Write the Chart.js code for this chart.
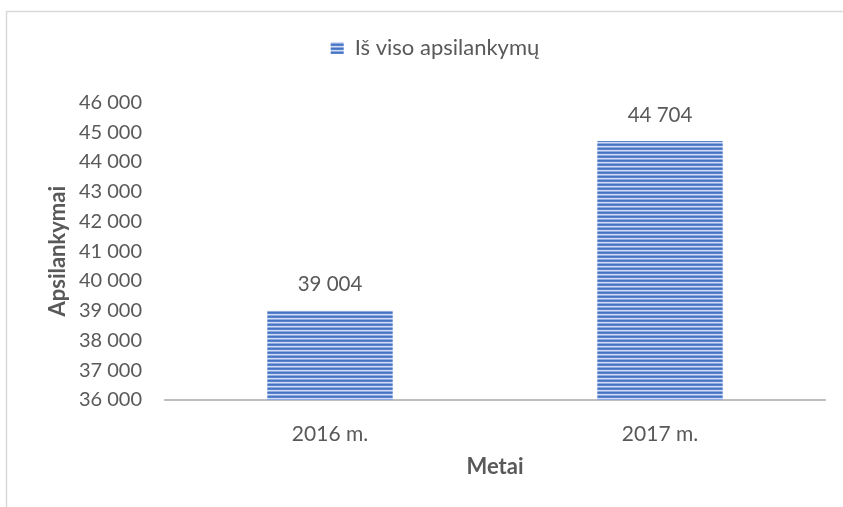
<!DOCTYPE html>
<html>
<head>
<meta charset="utf-8">
<script src="https://cdn.jsdelivr.net/npm/chart.js@4/dist/chart.umd.min.js"></script>
<style>
  html, body { margin: 0; padding: 0; background: #ffffff; }
  #wrap { width: 843px; height: 507px; position: relative; }
</style>
</head>
<body>
<div id="wrap"><canvas id="c" width="843" height="507"></canvas></div>
<script>
// ---- data ----
const categories = ['2016 m.', '2017 m.'];
const visits = [39004, 44704];
const seriesName = 'Iš viso apsilankymų';
const yMin = 36000;
const yMax = 46000;
const yStep = 1000;
const xTitle = 'Metai';
const yTitle = 'Apsilankymai';

// ---- helpers ----
function fmt(v) {
  return String(Math.round(v)).replace(/\B(?=(\d{3})+(?!\d))/g, ' ');
}
function makePattern() {
  const p = document.createElement('canvas');
  p.width = 4; p.height = 4;
  const g = p.getContext('2d');
  const rows = ['#4472c4', '#5b84cd', '#d0dcf2', '#8eaadf'];
  rows.forEach((c, i) => { g.fillStyle = c; g.fillRect(0, i, 4, 1); });
  return document.getElementById('c').getContext('2d').createPattern(p, 'repeat');
}
const pattern = makePattern();
const FONT = 'Lato, "Open Sans", "DejaVu Sans", sans-serif';
const TXT = '#595959';

const frame = {
  id: 'frame',
  beforeDraw(chart) {
    const ctx = chart.ctx;
    ctx.save();
    ctx.fillStyle = '#ffffff';
    ctx.fillRect(0, 0, chart.width, chart.height);
    ctx.strokeStyle = '#d9d9d9';
    ctx.lineWidth = 1.5;
    ctx.strokeRect(6.5, 11.5, 1000, 1000);
    ctx.restore();
  }
};
const legendSpace = {
  id: 'legendSpace',
  beforeInit(chart) {
    const orig = chart.legend.fit;
    chart.legend.fit = function () {
      orig.call(this);
      this.height += 33.5;
    };
  }
};
const valueLabels = {
  id: 'valueLabels',
  afterDatasetsDraw(chart) {
    const ctx = chart.ctx;
    const meta = chart.getDatasetMeta(0);
    ctx.save();
    ctx.font = '20.5px ' + FONT;
    ctx.fillStyle = TXT;
    ctx.textAlign = 'center';
    ctx.textBaseline = 'middle';
    meta.data.forEach((bar, i) => {
      ctx.fillText(fmt(chart.data.datasets[0].data[i]), bar.x, bar.y - 26);
    });
    ctx.restore();
  }
};

new Chart(document.getElementById('c'), {
  type: 'bar',
  data: {
    labels: categories,
    datasets: [{
      label: seriesName,
      data: visits,
      backgroundColor: pattern,
      borderWidth: 0,
      categoryPercentage: 1,
      barPercentage: 0.38
    }]
  },
  options: {
    responsive: false,
    animation: false,
    layout: { padding: { left: 45, right: 18, top: 27, bottom: 0 } },
    plugins: {
      legend: {
        position: 'top',
        labels: {
          font: { family: FONT, size: 22 },
          color: TXT,
          boxWidth: 13,
          boxHeight: 12,
          padding: 10
        }
      },
      tooltip: { enabled: false }
    },
    scales: {
      x: {
        grid: { display: false, drawTicks: false },
        border: { display: true, color: '#bfbfbf', width: 2 },
        ticks: { font: { family: FONT, size: 21 }, color: TXT, padding: 21.4 },
        title: { display: true, text: xTitle, font: { family: FONT, size: 22, weight: 'bold' }, color: TXT, padding: { top: 0, bottom: 26.8 } },
        afterFit(s) { s.height = 107; }
      },
      y: {
        min: yMin, max: yMax,
        grid: { display: false, drawTicks: false },
        border: { display: false },
        ticks: { stepSize: yStep, font: { family: FONT, size: 20 }, color: TXT, padding: 23, callback: v => fmt(v) },
        title: { display: true, text: yTitle, font: { family: FONT, size: 22, weight: 'bold' }, color: TXT, padding: { top: 0, bottom: 0 } },
        afterFit(s) { s.width = 120; }
      }
    }
  },
  plugins: [frame, legendSpace, valueLabels]
});
</script>
</body>
</html>
